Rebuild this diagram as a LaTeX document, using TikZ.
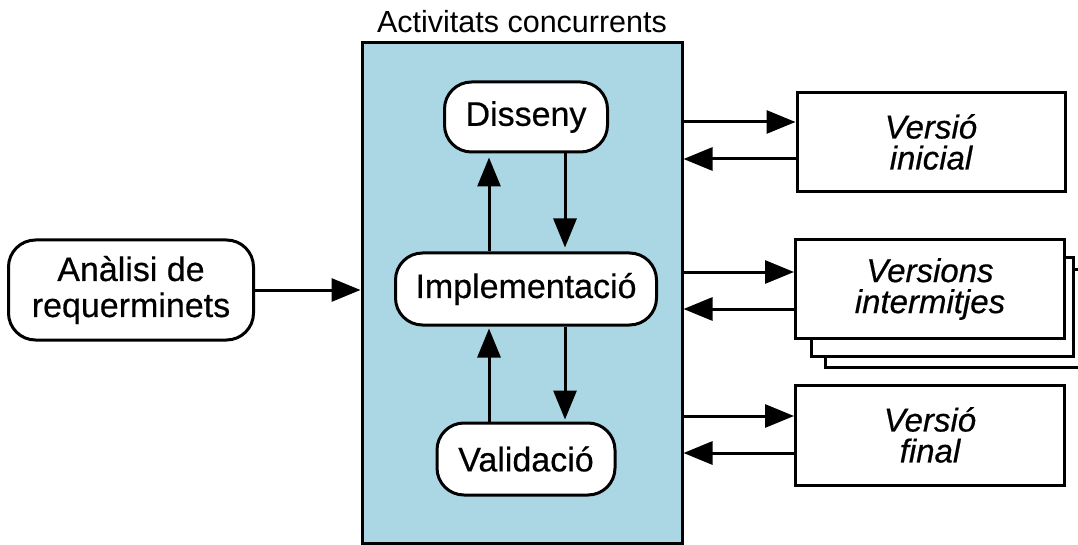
\documentclass[tikz,border=0pt]{standalone}
\usepackage{fontspec}
\setmainfont{Liberation Sans}
\newfontfamily\faselletra[FakeBold=0.5]{Liberation Sans}
\usepackage{tikz}
\usetikzlibrary{arrows.meta}

\definecolor{concblue}{RGB}{171,214,228}

\tikzset{
  fase/.style={draw, line width=3pt, fill=white, rounded corners=27pt,
    inner sep=0pt, align=center, font=\faselletra\fontsize{34}{36}\selectfont},
  versio/.style={draw, line width=3pt, fill=white, inner sep=0pt,
    align=center, font=\faselletra\fontsize{33}{31}\selectfont\itshape},
  fletxa/.style={line width=3pt, -{Triangle[length=29pt,width=23pt]}}
}

\begin{document}
\begin{tikzpicture}[x=1pt,y=-1pt]
\useasboundingbox (0,0) rectangle (1078,545);
\clip (0,0) rectangle (1078,545);

\node[
      draw,
      line width=3pt,
      fill=concblue,
      minimum width=320pt,
      minimum height=500pt,
      label={[font=\fontsize{30.5}{32}\selectfont, inner sep=0pt, outer sep=0pt, label distance=9pt]north:Activitats concurrents}%< -- title sits on top of the box
] (activ) at (522,293) {};

\node[fase, minimum width=163pt, minimum height=70pt] (disseny) at (526,117) {Disseny};
\node[fase, minimum width=261pt, minimum height=72pt] (impl) at (526,289) {Implementació};
\node[fase, minimum width=178pt, minimum height=72pt] (valid) at (526,459) {Validació};
\node[fase, minimum width=245pt, minimum height=100pt] (analisi) at (131,290) {Anàlisi de\\requerminets};

\node[versio, minimum width=268pt, minimum height=99pt] (inicial) at (931,142) {Versió\\inicial};
\node[versio, minimum width=262pt, minimum height=98pt] (interm3) at (956,318) {};
\node[versio, minimum width=262pt, minimum height=98pt] (interm2) at (942,307) {};
\node[versio, minimum width=269pt, minimum height=98pt] (interm) at (930,289) {Versions\\intermitjes};
\node[versio, minimum width=269pt, minimum height=100pt] (final) at (930,435) {Versió\\final};

\draw[fletxa] (analisi.east) -- (analisi.east -| activ.west);

\draw[fletxa, shorten >=4pt] ([xshift=-37pt]impl.north) -- ([xshift=-37pt]disseny.south);
\draw[fletxa, shorten >=4pt] ([xshift=39pt]disseny.south) -- ([xshift=39pt]impl.north);
\draw[fletxa, shorten >=2pt] ([xshift=-37pt]valid.north) -- ([xshift=-37pt]impl.south);
\draw[fletxa, shorten >=2pt] ([xshift=39pt]impl.south) -- ([xshift=39pt]valid.north);

\path ([yshift=20pt]inicial.west) coordinate (ini1)
      ([yshift=-17pt]inicial.west) coordinate (ini2)
      ([yshift=17pt]interm.west) coordinate (int1)
      ([yshift=-20pt]interm.west) coordinate (int2)
      ([yshift=19pt]final.west) coordinate (fin1)
      ([yshift=-18pt]final.west) coordinate (fin2);

\draw[fletxa] (activ.east |- ini1) -- (ini1);
\draw[fletxa] (ini2) -- (activ.east |- ini2);
\draw[fletxa] (activ.east |- int1) -- (int1);
\draw[fletxa] (int2) -- (activ.east |- int2);
\draw[fletxa] (activ.east |- fin1) -- (fin1);
\draw[fletxa] (fin2) -- (activ.east |- fin2);
\end{tikzpicture}
\end{document}
